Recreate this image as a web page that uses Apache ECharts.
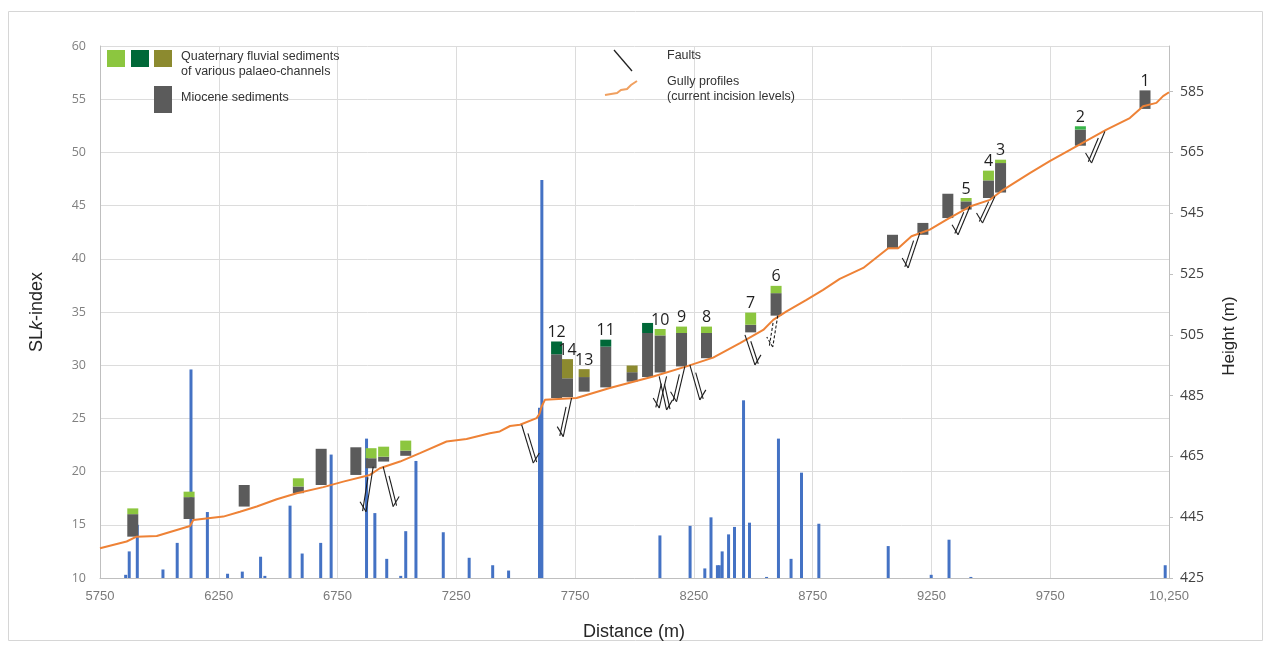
<!DOCTYPE html>
<html>
<head>
<meta charset="utf-8">
<script src="https://cdn.jsdelivr.net/npm/echarts@6/dist/echarts.min.js"></script>
<style>
  html, body { margin: 0; padding: 0; background: #ffffff; }
  #chart { width: 1271px; height: 646px; }
</style>
</head>
<body>
<div id="chart"></div>
<script>
// Distance axis starts at 5750 m; values are stored in metres and shifted by X0 for the axis.
const X0 = 5750;
const distanceTicks = ['5750', '6250', '6750', '7250', '7750', '8250', '8750', '9250', '9750', '10,250'];
const heightTicks = [425, 445, 465, 485, 505, 525, 545, 565, 585];

// SLk-index spikes along the channel
const slkDistance = [5858, 5873, 5907, 6015, 6075, 6133, 6202, 6287, 6349, 6426, 6444, 6550, 6601, 6679, 6723,
  6872, 6907, 6957, 7016, 7037, 7080, 7195, 7304, 7403, 7470, 7600, 7610, 8107, 8234, 8296, 8322, 8349, 8357,
  8369, 8396, 8421, 8459, 8484, 8556, 8606, 8659, 8703, 8776, 9068, 9249, 9324, 9416, 10234];
const slkValue = [10.3, 12.5, 15.0, 10.8, 13.3, 29.6, 16.2, 10.4, 10.6, 12.0, 10.2, 16.8, 12.3, 13.3, 21.6,
  23.1, 16.1, 11.8, 10.2, 14.4, 21.0, 14.3, 11.9, 11.2, 10.7, 26.0, 47.4, 14.0, 14.9, 10.9, 15.7, 11.2, 11.2,
  12.5, 14.1, 14.8, 26.7, 15.2, 10.1, 23.1, 11.8, 19.9, 15.1, 13.0, 10.3, 13.6, 10.1, 11.2];

// Gully longitudinal profile (current incision level), height in m
const profileDistance = [5750, 5862, 5904, 5989, 6073, 6129, 6143, 6269, 6339, 6410, 6494, 6578, 6690, 6774,
  6886, 6928, 7013, 7097, 7209, 7293, 7391, 7433, 7476, 7518, 7588, 7600, 7609, 7623, 7756, 7896, 8079, 8219,
  8331, 8444, 8542, 8584, 8640, 8724, 8794, 8864, 8963, 9068, 9110, 9166, 9243, 9314, 9412, 9496, 9552, 9664,
  9748, 9875, 9987, 10085, 10141, 10197, 10225, 10250];
const profileHeight = [434.8, 437.0, 438.6, 438.8, 440.8, 442.1, 444.1, 445.2, 446.8, 448.5, 450.9, 452.9, 454.9,
  456.7, 458.9, 461.1, 463.3, 466.1, 469.9, 470.7, 472.6, 473.2, 475.0, 475.4, 477.6, 479.0, 481.4, 483.6, 484.2,
  487.5, 491.3, 494.6, 497.5, 502.3, 506.6, 509.9, 512.7, 516.5, 519.8, 523.4, 527.0, 533.5, 533.5, 537.4, 539.6,
  542.9, 547.2, 549.4, 552.7, 558.2, 562.1, 567.6, 572.5, 576.3, 580.2, 581.3, 583.5, 584.8];

// Sediment columns: Miocene base/top and the Quaternary cap above it (heights in m)
const boxDistance = [5888, 6125, 6357, 6585, 6681, 6827, 6891, 6944, 7037, 7672, 7718, 7788, 7879, 7990, 8055,
  8108, 8198, 8303, 8489, 8596, 9086, 9214, 9319, 9396, 9490, 9541, 9877, 10149];
const boxBase = [438.6, 444.4, 448.5, 452.9, 455.6, 458.9, 461.1, 463.3, 465.2, 484.2, 484.5, 486.3, 487.7, 489.6,
  491.1, 492.6, 494.6, 497.3, 505.8, 511.3, 533.2, 537.9, 543.4, 546.2, 550.0, 551.8, 567.2, 579.3];
const mioceneTop = [446.0, 451.6, 455.6, 455.1, 467.5, 468.0, 464.4, 464.9, 466.9, 498.6, 490.7, 491.1, 501.1,
  492.7, 505.6, 504.8, 505.6, 505.6, 508.3, 518.7, 537.9, 541.8, 551.4, 548.9, 555.8, 561.5, 572.5, 585.4];
const quaternaryTop = [447.9, 453.4, null, 457.8, null, null, 467.7, 468.2, 470.2, 502.8, 497.0, 493.7, 503.4,
  494.9, 508.9, 506.9, 507.7, 507.7, 512.3, 521.1, null, null, null, 550.0, 559.0, 562.6, 573.6, null];
const channelType = ['light', 'light', '', 'light', '', '', 'light', 'light', 'light', 'dark', 'olive', 'olive',
  'dark', 'olive', 'dark', 'light', 'light', 'light', 'light', 'light', '', '', '', 'light', 'light', 'light', 'mid', ''];
const siteLabel = ['', '', '', '', '', '', '', '', '', '12', '14', '13', '11', '', '', '10', '9', '8', '7', '6',
  '', '', '', '5', '4', '3', '2', '1'];

// Faults: upper and lower end of each trace (distance m, height m)
const faultTopDistance = [6900, 6942, 7525, 7735, 8104, 8135, 8212, 8233, 8465, 8603, 9201, 9412, 9517, 9980];
const faultTopHeight = [461.6, 461.6, 475.4, 484.2, 491.3, 491.3, 494.6, 495.1, 505.0, 511.3, 538.5, 547.2, 550.5, 571.9];
const faultBottomDistance = [6870, 6984, 7574, 7700, 8135, 8104, 8177, 8275, 8507, 8582, 9152, 9362, 9465, 9924];
const faultBottomHeight = [446.8, 448.5, 462.8, 471.5, 480.3, 480.9, 483.0, 483.6, 495.1, 501.0, 527.0, 537.9, 541.8, 561.5];
const faultDashed = [false, false, false, false, false, false, false, false, false, true, false, false, false, false];

const CAP_COLORS = { light: '#8cc63f', dark: '#006838', olive: '#8c8a2f', mid: '#39b54a' };
const MIOCENE = '#5b5b5b';
const AXIS_GREY = '#bfbfbf';
const GRID_GREY = '#dcdcdc';

const chart = echarts.init(document.getElementById('chart'), null, { renderer: 'canvas' });

function renderBox(params, api) {
  const i = params.dataIndex;
  const W = 11;
  const x = api.value(0);
  const pBase = api.coord([x, api.value(1)]);
  const pMio = api.coord([x, api.value(2)]);
  const children = [{
    type: 'rect',
    shape: { x: pBase[0] - W / 2, y: pMio[1], width: W, height: pBase[1] - pMio[1] },
    style: { fill: MIOCENE }
  }];
  let topY = pMio[1];
  if (quaternaryTop[i] != null) {
    const pCap = api.coord([x, api.value(3)]);
    children.push({
      type: 'rect',
      shape: { x: pBase[0] - W / 2, y: pCap[1], width: W, height: pMio[1] - pCap[1] },
      style: { fill: CAP_COLORS[channelType[i]] }
    });
    topY = pCap[1];
  }
  if (siteLabel[i]) {
    children.push({
      type: 'text',
      x: pBase[0], y: topY - 1,
      style: {
        text: siteLabel[i], fill: '#1f1f1f', font: '16px "Open Sans", sans-serif',
        align: 'center', verticalAlign: 'bottom'
      }
    });
  }
  return { type: 'group', children };
}

function renderFault(params, api) {
  const i = params.dataIndex;
  const a = api.coord([api.value(0), api.value(1)]);
  const b = api.coord([api.value(2), api.value(3)]);
  const dx = b[0] - a[0], dy = b[1] - a[1];
  const len = Math.hypot(dx, dy);
  const ux = dx / len, uy = dy / len;
  const side = dx < 0 ? 1 : -1;           // parallel trace on the up-thrown side
  const nx = -uy * side, ny = ux * side;
  const off = 3.5;
  const s = [a[0] + dx * 0.25 + nx * off, a[1] + dy * 0.25 + ny * off];
  const e = [b[0] + nx * off, b[1] + ny * off];
  const tick = [b[0] - side * 6, b[1] - 10];
  const style = {
    stroke: '#1e1e1e', lineWidth: 1.1, fill: null,
    lineDash: faultDashed[i] ? [3, 2] : null
  };
  return {
    type: 'group',
    children: [
      { type: 'line', shape: { x1: a[0], y1: a[1], x2: b[0], y2: b[1] }, style },
      { type: 'line', shape: { x1: s[0], y1: s[1], x2: e[0], y2: e[1] }, style },
      { type: 'line', shape: { x1: b[0], y1: b[1], x2: tick[0], y2: tick[1] }, style }
    ]
  };
}

const legendText = { fill: '#333333', font: '12.5px "Liberation Sans", Arial, sans-serif', verticalAlign: 'middle' };

const option = {
  animation: false,
  backgroundColor: '#ffffff',
  grid: { left: 100, right: 102, top: 46, bottom: 68, containLabel: false },
  xAxis: {
    type: 'value', min: 0, max: 4500, interval: 500,
    axisLine: { show: true, onZero: false, lineStyle: { color: AXIS_GREY } },
    axisTick: { show: false },
    axisLabel: {
      margin: 12, color: '#7a7a7a',
      fontFamily: '"Liberation Sans Narrow", "Liberation Sans", sans-serif', fontSize: 13,
      formatter: v => distanceTicks[Math.round(v / 500)] || ''
    },
    splitLine: { show: true, lineStyle: { color: GRID_GREY, width: 1 } }
  },
  yAxis: [
    {
      type: 'value', min: 10, max: 60, interval: 5, position: 'left',
      axisLine: { show: true, lineStyle: { color: AXIS_GREY } },
      axisTick: { show: false },
      axisLabel: { margin: 14, color: '#808080', fontFamily: '"Open Sans", sans-serif', fontSize: 12.5 },
      splitLine: { show: true, lineStyle: { color: GRID_GREY, width: 1 } }
    },
    {
      type: 'value', min: 425, max: 600, position: 'right',
      axisLine: { show: true, lineStyle: { color: AXIS_GREY } },
      axisTick: { show: true, length: 4, lineStyle: { color: AXIS_GREY }, customValues: heightTicks },
      axisLabel: {
        margin: 11, color: '#404040', fontFamily: '"Open Sans", sans-serif', fontSize: 14,
        customValues: heightTicks
      },
      splitLine: { show: false }
    }
  ],
  graphic: [
    // outer frame
    { type: 'rect', z: 1, shape: { x: 8.5, y: 11.5, width: 1254, height: 629 }, style: { fill: null, stroke: '#d6d6d6', lineWidth: 1 } },
    // axis titles
    {
      type: 'text', z: 10, x: 37, y: 312, rotation: Math.PI / 2,
      style: {
        text: '{n|SL}{i|k}{n|-index}', align: 'center', verticalAlign: 'middle',
        rich: {
          n: { fontSize: 18, fontFamily: '"Liberation Sans", Arial, sans-serif', fill: '#262626' },
          i: { fontSize: 18, fontStyle: 'italic', fontFamily: '"Liberation Sans", Arial, sans-serif', fill: '#262626' }
        }
      }
    },
    {
      type: 'text', z: 10, x: 1229, y: 336, rotation: Math.PI / 2,
      style: { text: 'Height (m)', align: 'center', verticalAlign: 'middle', fill: '#262626', font: '17px "Liberation Sans", Arial, sans-serif' }
    },
    {
      type: 'text', z: 10, x: 634, y: 632,
      style: { text: 'Distance (m)', align: 'center', verticalAlign: 'middle', fill: '#262626', font: '18px "Liberation Sans", Arial, sans-serif' }
    },
    // sediment legend
    { type: 'rect', z: 10, shape: { x: 107, y: 50, width: 18, height: 17 }, style: { fill: CAP_COLORS.light } },
    { type: 'rect', z: 10, shape: { x: 131, y: 50, width: 18, height: 17 }, style: { fill: CAP_COLORS.dark } },
    { type: 'rect', z: 10, shape: { x: 154, y: 50, width: 18, height: 17 }, style: { fill: CAP_COLORS.olive } },
    { type: 'rect', z: 10, shape: { x: 154, y: 86, width: 18, height: 27 }, style: { fill: MIOCENE } },
    { type: 'text', z: 10, x: 181, y: 57, style: Object.assign({ text: 'Quaternary fluvial sediments' }, legendText) },
    { type: 'text', z: 10, x: 181, y: 72, style: Object.assign({ text: 'of various palaeo-channels' }, legendText) },
    { type: 'text', z: 10, x: 181, y: 98, style: Object.assign({ text: 'Miocene sediments' }, legendText) },
    // fault and profile legend
    { type: 'line', z: 10, shape: { x1: 614, y1: 50, x2: 632, y2: 71 }, style: { stroke: '#222222', lineWidth: 1.3 } },
    { type: 'text', z: 10, x: 667, y: 56, style: Object.assign({ text: 'Faults' }, legendText) },
    {
      type: 'polyline', z: 10,
      shape: { points: [[605, 95], [611, 94], [617, 93], [621, 90], [627, 89], [631, 85], [637, 81]] },
      style: { stroke: '#f0a060', lineWidth: 2, fill: null }
    },
    { type: 'text', z: 10, x: 667, y: 82, style: Object.assign({ text: 'Gully profiles' }, legendText) },
    { type: 'text', z: 10, x: 667, y: 97, style: Object.assign({ text: '(current incision levels)' }, legendText) }
  ],
  series: [
    {
      name: 'SLk-index', type: 'bar', xAxisIndex: 0, yAxisIndex: 0,
      barWidth: 3, z: 2, silent: true,
      itemStyle: { color: '#4472c4' },
      data: slkDistance.map((d, i) => [d - X0, slkValue[i]])
    },
    {
      name: 'Sediments', type: 'custom', xAxisIndex: 0, yAxisIndex: 1, z: 3, silent: true, clip: false,
      renderItem: renderBox,
      encode: { x: 0, y: [1, 2, 3] },
      data: boxDistance.map((d, i) => [d - X0, boxBase[i], mioceneTop[i],
        quaternaryTop[i] == null ? mioceneTop[i] : quaternaryTop[i]])
    },
    {
      name: 'Gully profile', type: 'line', xAxisIndex: 0, yAxisIndex: 1, z: 4, silent: true,
      showSymbol: false, smooth: false,
      lineStyle: { color: '#ee8236', width: 2 },
      data: profileDistance.map((d, i) => [d - X0, profileHeight[i]])
    },
    {
      name: 'Faults', type: 'custom', xAxisIndex: 0, yAxisIndex: 1, z: 5, silent: true, clip: false,
      renderItem: renderFault,
      encode: { x: [0, 2], y: [1, 3] },
      data: faultTopDistance.map((d, i) => [d - X0, faultTopHeight[i], faultBottomDistance[i] - X0, faultBottomHeight[i]])
    }
  ]
};

chart.setOption(option);
</script>
</body>
</html>
